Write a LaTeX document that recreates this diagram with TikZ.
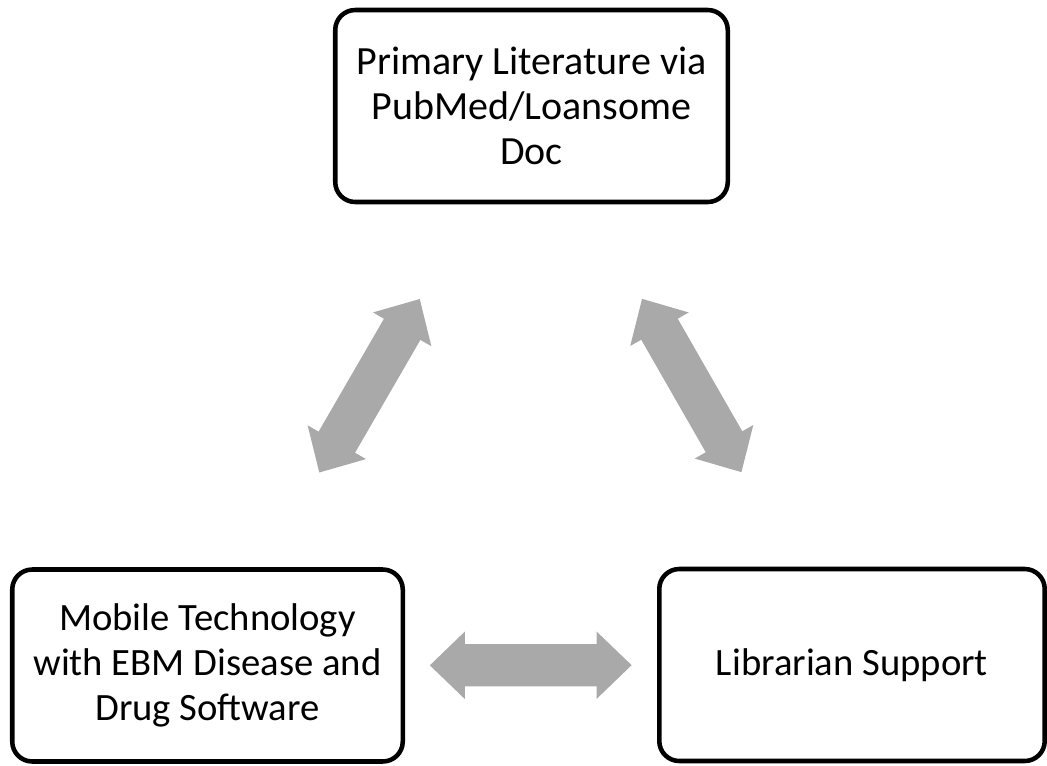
\documentclass[tikz,border=0pt]{standalone}
\usepackage{fontspec}
\setmainfont{Carlito}
\usetikzlibrary{calc}
\definecolor{arrowgray}{RGB}{169,169,169}

\begin{document}
\begin{tikzpicture}[x=0.75pt, y=-0.75pt,
	resource/.style={draw, rounded corners=15pt, line width=3.4pt, align=center, inner sep=0pt, minimum height=144pt, font=\fontsize{29}{34}\selectfont},
	link/.style={fill=arrowgray, to path={
		-- ($(\tikztostart)!26.25pt!(\tikztotarget)!25.3pt!90:(\tikztotarget)$)
		-- ($(\tikztostart)!26.25pt!(\tikztotarget)!15.8pt!90:(\tikztotarget)$)
		-- ($(\tikztotarget)!26.25pt!(\tikztostart)!15.8pt!-90:(\tikztostart)$)
		-- ($(\tikztotarget)!26.25pt!(\tikztostart)!25.3pt!-90:(\tikztostart)$)
		-- (\tikztotarget)
		-- ($(\tikztotarget)!26.25pt!(\tikztostart)!25.3pt!90:(\tikztostart)$)
		-- ($(\tikztotarget)!26.25pt!(\tikztostart)!15.8pt!90:(\tikztostart)$)
		-- ($(\tikztostart)!26.25pt!(\tikztotarget)!15.8pt!-90:(\tikztotarget)$)
		-- ($(\tikztostart)!26.25pt!(\tikztotarget)!25.3pt!-90:(\tikztotarget)$)
		-- cycle}}]
	\useasboundingbox (0, 0) rectangle (1047, 765);
	\node [resource, minimum width=294.4pt, font=\fontsize{30}{34}\selectfont] (pubmed) at (531.5, 106) {Primary Literature via\\PubMed/Loansome\\Doc};
	\node [resource, minimum width=292.9pt] (mobile) at (207.5, 665.5) {Mobile Technology\\with EBM Disease and\\Drug Software};
	\node [resource, minimum width=289.1pt] (librarian) at (852, 665) {Librarian Support};

	\coordinate (leftlow) at ($(mobile)!0.345!(pubmed)$);
	\coordinate (lefthigh) at ($(mobile)!0.655!(pubmed)$);
	\coordinate (righthigh) at ($(pubmed)!0.345!(librarian)$);
	\coordinate (rightlow) at ($(pubmed)!0.655!(librarian)$);
	\coordinate (bottomleft) at ($(mobile)!0.345!(librarian)$);
	\coordinate (bottomright) at ($(mobile)!0.658!(librarian)$);

	\path [link] (leftlow) to (lefthigh);
	\path [link] (righthigh) to (rightlow);
	\path [link] (bottomleft) to (bottomright);
\end{tikzpicture}
\end{document}
